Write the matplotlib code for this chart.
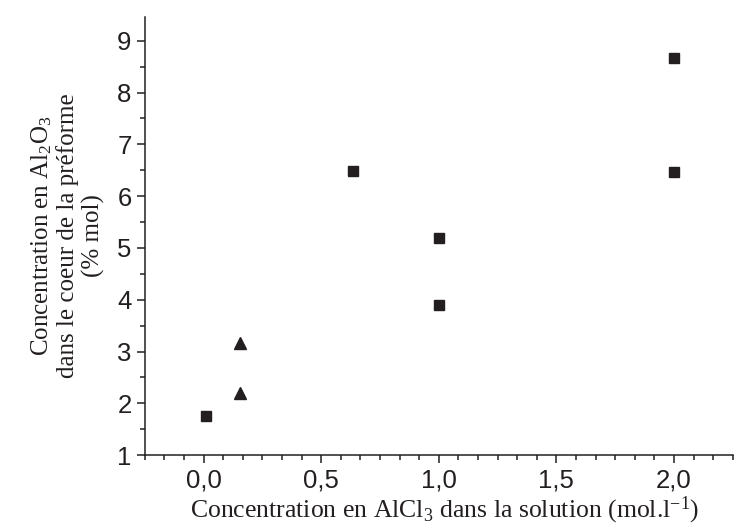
import matplotlib
matplotlib.use('Agg')
import matplotlib.pyplot as plt
from matplotlib.ticker import MultipleLocator, FuncFormatter

# squares
sq_x = [0.01, 0.635, 1.0, 1.0, 2.0, 2.0]
sq_y = [1.75, 6.49, 5.20, 3.90, 8.67, 6.47]
# triangles
tri_x = [0.155, 0.155]
tri_y = [3.16, 2.20]

ink = '#231f20'
plt.rcParams['font.family'] = ['Liberation Sans', 'DejaVu Sans']
plt.rcParams['mathtext.fontset'] = 'custom'
plt.rcParams['mathtext.rm'] = 'Liberation Serif'
plt.rcParams['mathtext.it'] = 'Liberation Serif:italic'

fig = plt.figure(figsize=(7.35, 5.28), dpi=100)
ax = fig.add_axes([0.197, 0.138, 0.800, 0.830])

ax.plot(sq_x, sq_y, 's', ms=7.7, color=ink, mec=ink, linestyle='none')
ax.plot(tri_x, tri_y, '^', ms=9, color=ink, mec=ink, linestyle='none')

ax.set_xlim(-0.25, 2.25)
ax.set_ylim(1, 9.46)

ax.xaxis.set_major_locator(MultipleLocator(0.5))
ax.xaxis.set_minor_locator(MultipleLocator(0.5 / 6))
ax.yaxis.set_major_locator(MultipleLocator(1))
ax.yaxis.set_minor_locator(MultipleLocator(0.5))
ax.xaxis.set_major_formatter(FuncFormatter(lambda v, p: ('%.1f' % v).replace('.', ',')))
ax.yaxis.set_major_formatter(FuncFormatter(lambda v, p: '%d' % v))

for s in ['top', 'right']:
    ax.spines[s].set_visible(False)
for s in ['left', 'bottom']:
    ax.spines[s].set_linewidth(1.1)
    ax.spines[s].set_color(ink)

ax.tick_params(which='major', direction='out', length=5.5, width=1.1, color=ink,
               labelsize=18.5, labelcolor=ink, pad=4)
ax.tick_params(which='minor', direction='out', length=3.5, width=1.1, color=ink)

ax.set_xlabel('Concentration en AlCl$_3$ dans la solution (mol.l$^{-1}$)',
              family='Liberation Serif', fontsize=18.5, color=ink)
ax.xaxis.set_label_coords(0.51, -0.125)
ax.xaxis.label.set_va('center')
ax.set_ylabel('Concentration en Al$_2$O$_3$\ndans le coeur de la préforme\n(% mol)',
              family='Liberation Serif', fontsize=18, color=ink,
              linespacing=1.12)
ax.yaxis.set_label_coords(-0.132, 0.50)
ax.yaxis.label.set_va('center')

fig.savefig('out.png', dpi=100)
